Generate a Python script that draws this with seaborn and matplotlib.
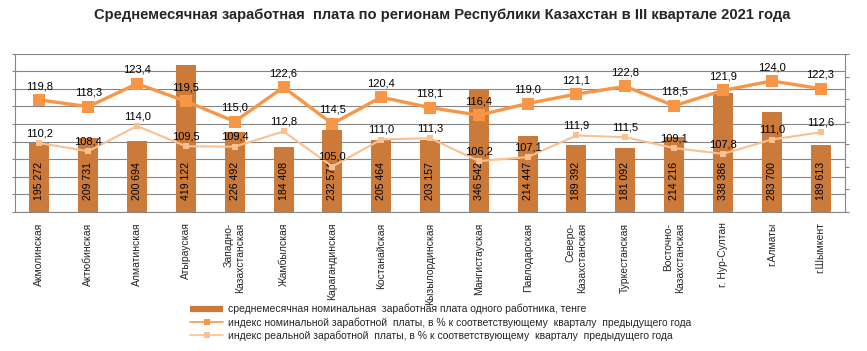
import numpy as np
import pandas as pd
import matplotlib
matplotlib.use("Agg")
import matplotlib.pyplot as plt
from matplotlib.lines import Line2D
import seaborn as sns

regions = ["Акмолинская", "Актюбинская", "Алматинская", "Атырауская",
           "Западно-\nКазахстанская", "Жамбылская", "Карагандинская",
           "Костанайская", "Кызылординская", "Мангистауская", "Павлодарская",
           "Северо-\nКазахстанская", "Туркестанская", "Восточно-\nКазахстанская",
           "г. Нур-Султан", "г.Алматы", "г.Шымкент"]
salary = [195272, 209731, 200694, 419122, 226492, 184408, 232574, 205464,
          203157, 346542, 214447, 189392, 181092, 214216, 338386, 283700, 189613]
nominal_idx = [119.8, 118.3, 123.4, 119.5, 115.0, 122.6, 114.5, 120.4, 118.1,
               116.4, 119.0, 121.1, 122.8, 118.5, 121.9, 124.0, 122.3]
real_idx = [110.2, 108.4, 114.0, 109.5, 109.4, 112.8, 105.0, 111.0, 111.3,
            106.2, 107.1, 111.9, 111.5, 109.1, 107.8, 111.0, 112.6]

title = "Среднемесячная заработная  плата по регионам Республики Казахстан в III квартале 2021 года"
legend_labels = [
    "среднемесячная номинальная  заработная плата одного работника, тенге",
    "индекс номинальной заработной  платы, в % к соответствующему  кварталу  предыдущего года",
    "индекс реальной заработной  платы, в % к соответствующему  кварталу  предыдущего года",
]

BAR = "#CC7A3A"
NOM = "#F79646"
REAL = "#FAC090"
GRID = "#868686"

sns.set_theme(style="white")
plt.rcParams["font.family"] = ["Liberation Sans", "DejaVu Sans"]

df = pd.DataFrame({"region": regions, "salary": salary,
                   "nominal": nominal_idx, "real": real_idx})

fig = plt.figure(figsize=(8.67, 3.51), dpi=100)
ax = fig.add_axes([15 / 867, 1 - 211.5 / 351, (845 - 15) / 867, (211.5 - 54) / 351])

sns.barplot(data=df, x="region", y="salary", ax=ax, color=BAR, saturation=1,
            width=0.41, linewidth=0, order=regions)
ax.set_ylim(0, 450000)
ax.set_yticks(np.arange(0, 450001, 50000))
ax.set_yticklabels([])
ax.yaxis.grid(True, color=GRID, linewidth=0.8)
ax.set_axisbelow(True)
ax.set_xlabel("")
ax.set_ylabel("")
for s in ["top", "right"]:
    ax.spines[s].set_visible(False)
for s in ["left", "bottom"]:
    ax.spines[s].set_color(GRID)
    ax.spines[s].set_linewidth(0.8)
ax.tick_params(axis="y", left=True, length=2.5, color=GRID, width=0.8, direction="out")

for i, v in enumerate(salary):
    txt = f"{v:,}".replace(",", " ")
    ax.annotate(txt, (i, 0), xytext=(0, 8), textcoords="offset points",
                rotation=90, ha="center", va="bottom", fontsize=7.6, color="black")

ax2 = ax.twinx()
sns.pointplot(data=df, x="region", y="nominal", ax=ax2, color=NOM, markers="s",
              linestyles="-", linewidth=2.4, markersize=9, markeredgewidth=0,
              order=regions)
sns.pointplot(data=df, x="region", y="real", ax=ax2, color=REAL, markers="s",
              linestyles="-", linewidth=1.5, markersize=4.5, markeredgewidth=0,
              order=regions)
ax2.set_ylim(95, 130)
ax2.set_yticks(np.arange(95, 130.1, 5))
ax2.set_yticklabels([])
ax2.set_ylabel("")
ax2.set_xlabel("")
ax2.grid(False)
for s in ["top", "left", "bottom"]:
    ax2.spines[s].set_visible(False)
ax2.spines["right"].set_color(GRID)
ax2.spines["right"].set_linewidth(0.8)
ax2.tick_params(axis="y", right=True, length=3, color=GRID, width=0.8, direction="out")

for i, v in enumerate(nominal_idx):
    ax2.annotate(f"{v:.1f}".replace(".", ","), (i, v), xytext=(0, 10),
                 textcoords="offset points", ha="center", va="center",
                 fontsize=8, color="black")
for i, v in enumerate(real_idx):
    ax2.annotate(f"{v:.1f}".replace(".", ","), (i, v), xytext=(0, 7),
                 textcoords="offset points", ha="center", va="center",
                 fontsize=8, color="black")

ax.set_xlim(-0.5, len(regions) - 0.5)
ax.set_xticks(range(len(regions)))
ax.set_xticklabels(regions, rotation=90, fontsize=7.5, va="top", ha="center",
                   multialignment="right")
ax.tick_params(axis="x", bottom=False, length=0, pad=8)

fig.text(0.51, 1 - 15 / 351, title, ha="center", va="center",
         fontsize=10.6, fontweight="bold")

handles = [
    Line2D([], [], color=BAR, linewidth=4.5, solid_capstyle="butt"),
    Line2D([], [], color=NOM, linewidth=1.2, marker="s", markersize=4.5, markeredgewidth=0),
    Line2D([], [], color=REAL, linewidth=1.2, marker="s", markersize=4.5, markeredgewidth=0),
]
fig.legend(handles, legend_labels, loc="upper left",
           bbox_to_anchor=(190 / 867, 1 - 304 / 351), frameon=False,
           fontsize=7.5, handlelength=3.2, handletextpad=0.4,
           labelspacing=0.25, borderpad=0, borderaxespad=0)

fig.savefig("out.png", dpi=100)
